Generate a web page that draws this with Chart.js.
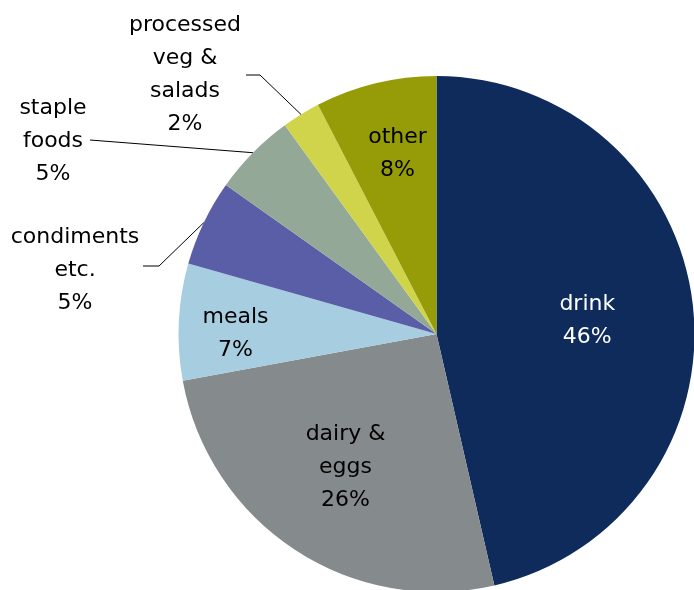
<!DOCTYPE html>
<html>
<head>
<meta charset="utf-8">
<script src="https://cdn.jsdelivr.net/npm/chart.js@4"></script>
<style>
  html, body { margin: 0; padding: 0; background: #fff; overflow: hidden; }
  #wrap { position: absolute; left: 0; top: 0; width: 700px; height: 600px; }
</style>
</head>
<body>
<div id="wrap"><canvas id="pie"></canvas></div>
<script>
// category names, one array of text lines per slice
const categories = [
  ["drink"],
  ["dairy &", "eggs"],
  ["meals"],
  ["condiments", "etc."],
  ["staple", "foods"],
  ["processed", "veg &", "salads"],
  ["other"]
];
// share of spend, percent
const shares = [46.4, 25.7, 7.3, 5.4, 5.2, 2.4, 7.6];
const sliceColors = ["#0f2b5b", "#858a8c", "#a7cde0", "#5a5ea6", "#94a898", "#cfd44b", "#969b08"];

// how each label is placed: inside at a fraction of the radius (plus a nudge),
// or outside with a leader line to the slice edge
const labelSpots = [
  { inside: 0.6, dx: -3, dy: 4, color: "#fff" },
  { inside: 0.6, dx: -6, dy: 4, color: "#000" },
  { inside: 0.78, dx: 0, dy: 9, color: "#000" },
  { x: 75, y: 237, line: [[143, 266], [159, 266]] },
  { x: 53, y: 108, line: [[90, 140]] },
  { x: 185, y: 25, line: [[246, 75], [260, 75]] },
  { inside: 0.72, dx: 5, dy: 0, color: "#000" }
];

const total = shares.reduce((a, b) => a + b, 0);
const LINE_H = 33;

const labelPlugin = {
  id: "sliceLabels",
  afterDatasetsDraw(chart) {
    const ctx = chart.ctx;
    const arcs = chart.getDatasetMeta(0).data;
    ctx.save();
    ctx.font = "22px 'DejaVu Sans'";
    ctx.textAlign = "center";
    ctx.textBaseline = "middle";
    arcs.forEach((arc, i) => {
      const spot = labelSpots[i];
      const lines = categories[i].concat([Math.round(shares[i] / total * 100) + "%"]);
      const mid = (arc.startAngle + arc.endAngle) / 2;
      let x, y;
      if (spot.inside) {
        const r = arc.outerRadius * spot.inside;
        x = arc.x + Math.cos(mid) * r + spot.dx;
        y = arc.y + Math.sin(mid) * r - (lines.length - 1) * LINE_H / 2 + spot.dy;
        ctx.fillStyle = spot.color;
      } else {
        x = spot.x;
        y = spot.y;
        ctx.fillStyle = "#000";
        // leader line from the label to the slice edge
        ctx.beginPath();
        ctx.strokeStyle = "#000";
        ctx.lineWidth = 1;
        spot.line.forEach((p, k) => k ? ctx.lineTo(p[0], p[1]) : ctx.moveTo(p[0], p[1]));
        ctx.lineTo(arc.x + Math.cos(mid) * arc.outerRadius, arc.y + Math.sin(mid) * arc.outerRadius);
        ctx.stroke();
      }
      lines.forEach((t, k) => ctx.fillText(t, x, y + k * LINE_H));
    });
    ctx.restore();
  }
};

new Chart(document.getElementById("pie"), {
  type: "pie",
  data: {
    labels: categories.map(c => c.join(" ")),
    datasets: [{
      data: shares,
      backgroundColor: sliceColors,
      borderWidth: 0
    }]
  },
  options: {
    responsive: true,
    maintainAspectRatio: false,
    animation: false,
    layout: { padding: { left: 178, top: 76, right: 5, bottom: 8 } },
    plugins: {
      legend: { display: false },
      tooltip: { enabled: false }
    }
  },
  plugins: [labelPlugin]
});
</script>
</body>
</html>
